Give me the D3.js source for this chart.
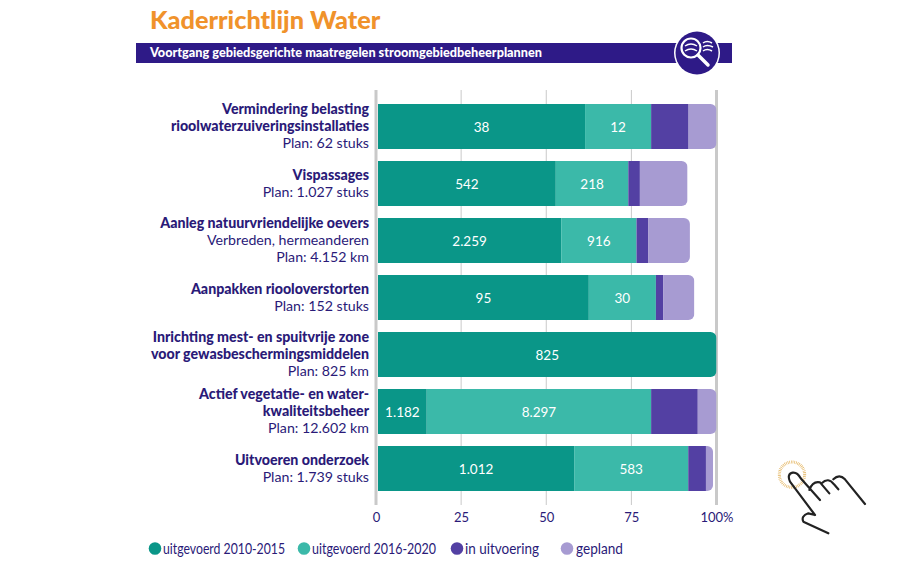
<!DOCTYPE html>
<html>
<head>
<meta charset="utf-8">
<script src="https://cdn.jsdelivr.net/npm/d3@7"></script>
<style>
  html, body { margin: 0; padding: 0; background: #fff; }
  text { font-family: Lato, "Noto Sans", sans-serif; }
</style>
</head>
<body>
<svg id="chart" width="900" height="568"></svg>
<script>
// Categories, label lines: the bold ones first, then the plain ones
const categories = ['Vermindering', 'Vispassages', 'Aanleg', 'Aanpakken', 'Inrichting', 'Actief', 'Uitvoeren'];
const boldLines = [
  ['Vermindering belasting', 'rioolwaterzuiveringsinstallaties'],
  ['Vispassages'],
  ['Aanleg natuurvriendelijke oevers'],
  ['Aanpakken riooloverstorten'],
  ['Inrichting mest- en spuitvrije zone', 'voor gewasbeschermingsmiddelen'],
  ['Actief vegetatie- en water-', 'kwaliteitsbeheer'],
  ['Uitvoeren onderzoek']
];
const plainLines = [
  ['Plan: 62 stuks'],
  ['Plan: 1.027 stuks'],
  ['Verbreden, hermeanderen', 'Plan: 4.152 km'],
  ['Plan: 152 stuks'],
  ['Plan: 825 km'],
  ['Plan: 12.602 km'],
  ['Plan: 1.739 stuks']
];

// Series, percent of plan per category
const uitgevoerd1 = [61.4, 52.8, 54.4, 62.5, 100, 14.9, 58.2];
const uitgevoerd2 = [19.4, 21.3, 22.1, 19.7, 0, 65.9, 33.5];
const inUitvoering = [11.0, 3.4, 3.5, 2.2, 0, 13.7, 5.2];
const gepland = [8.2, 14.0, 12.2, 9.1, 0, 5.5, 2.1];

// Printed values inside the bars
const labels1 = ['38', '542', '2.259', '95', '825', '1.182', '1.012'];
const labels2 = ['12', '218', '916', '30', '', '8.297', '583'];

const seriesKeys = ['uitgevoerd 2010-2015', 'uitgevoerd 2016-2020', 'in uitvoering', 'gepland'];
const seriesValues = [uitgevoerd1, uitgevoerd2, inUitvoering, gepland];
const seriesColors = ['#0a9688', '#3bb9a9', '#5340a3', '#a79bd2'];
const tickValues = [0, 25, 50, 75, 100];

const navy = '#2a1a78';
const grey = '#c9c9c9';

const svg = d3.select('#chart');

const x = d3.scaleLinear().domain([0, 100]).range([376, 716.5]);
const y = d3.scaleBand().domain(categories).range([98, 497])
  .paddingInner(12 / 57).paddingOuter(6 / 57);

// Header
svg.append('text')
  .attr('x', 150).attr('y', 29)
  .attr('font-size', 25.3).attr('font-weight', 900)
  .attr('fill', '#f0922b')
  .text('Kaderrichtlijn Water');

svg.append('rect')
  .attr('x', 136).attr('y', 43).attr('width', 596).attr('height', 20)
  .attr('fill', '#2e1a87');

svg.append('text')
  .attr('x', 150).attr('y', 56.5)
  .attr('font-size', 12.5).attr('font-weight', 900)
  .attr('fill', '#fff')
  .attr('textLength', 392).attr('lengthAdjust', 'spacingAndGlyphs')
  .text('Voortgang gebiedsgerichte maatregelen stroomgebiedbeheerplannen');

// Magnifier icon on the banner
const icon = svg.append('g').attr('transform', 'translate(697,53)');
icon.append('circle').attr('r', 23).attr('fill', '#fff');
icon.append('circle').attr('r', 21.5).attr('fill', '#2e1a87');
icon.append('circle').attr('cx', -6).attr('cy', -5).attr('r', 9.5)
  .attr('fill', 'none').attr('stroke', '#fff').attr('stroke-width', 2.2);
icon.append('line').attr('x1', 1).attr('y1', 2).attr('x2', 11).attr('y2', 12)
  .attr('stroke', '#fff').attr('stroke-width', 3.5).attr('stroke-linecap', 'round');
['M-12,-7 Q-6,-11 0,-7', 'M-12,-2 Q-6,-6 0,-2', 'M6,-10 Q10,-13 15,-10', 'M6,-6 Q10,-9 16,-6', 'M6,-2 Q10,-5 15,-2']
  .forEach(d => icon.append('path').attr('d', d)
    .attr('fill', 'none').attr('stroke', '#fff').attr('stroke-width', 1.5));

// Grid
svg.selectAll('.grid')
  .data(tickValues)
  .enter()
  .append('line')
  .attr('class', 'grid')
  .attr('x1', d => x(d)).attr('x2', d => x(d))
  .attr('y1', 90).attr('y2', 505)
  .attr('stroke', grey)
  .attr('stroke-width', d => (d === 0 || d === 100) ? 3 : 1);

// Stacked bars
const rows = categories.map((c, i) => {
  const row = { category: c };
  seriesKeys.forEach((k, s) => { row[k] = seriesValues[s][i]; });
  return row;
});
const stacked = d3.stack().keys(seriesKeys)(rows);

const barStart = x(0) + 2;
const defs = svg.append('defs');
categories.forEach((c, i) => {
  const total = d3.sum(seriesValues, s => s[i]);
  defs.append('clipPath').attr('id', 'clip' + i)
    .append('rect')
    .attr('x', barStart - 8)
    .attr('y', y(c))
    .attr('width', x(total) - barStart + 8)
    .attr('height', y.bandwidth())
    .attr('rx', 6);
  defs.select('#clip' + i).append('rect')
    .attr('x', barStart - 8).attr('y', y(c))
    .attr('width', 20).attr('height', y.bandwidth());
});

const barGroups = svg.selectAll('.bar')
  .data(categories)
  .enter()
  .append('g')
  .attr('class', 'bar')
  .attr('clip-path', (d, i) => `url(#clip${i})`);

barGroups.each(function (c, i) {
  const group = d3.select(this);
  stacked.forEach((layer, s) => {
    const d = layer[i];
    if (d[1] <= d[0]) return;
    group.append('rect')
      .attr('x', Math.max(x(d[0]), barStart))
      .attr('y', y(c))
      .attr('width', x(d[1]) - Math.max(x(d[0]), barStart))
      .attr('height', y.bandwidth())
      .attr('fill', seriesColors[s]);
  });
});

// Values inside the bars
[labels1, labels2].forEach((labels, s) => {
  svg.selectAll('.val' + s)
    .data(categories)
    .enter()
    .append('text')
    .attr('class', 'val' + s)
    .attr('x', (c, i) => (Math.max(x(stacked[s][i][0]), barStart) + x(stacked[s][i][1])) / 2)
    .attr('y', c => y(c) + y.bandwidth() / 2 + 5)
    .attr('text-anchor', 'middle')
    .attr('font-size', 13.5)
    .attr('font-weight', 400)
    .attr('fill', '#fff')
    .text((c, i) => labels[i]);
});

// Category labels
categories.forEach((c, i) => {
  const lines = boldLines[i].map(t => ({ t, bold: true }))
    .concat(plainLines[i].map(t => ({ t, bold: false })));
  const mid = y(c) + y.bandwidth() / 2 + 4.5;
  lines.forEach((l, j) => {
    svg.append('text')
      .attr('x', 369)
      .attr('y', mid + (j - (lines.length - 1) / 2) * 17)
      .attr('text-anchor', 'end')
      .attr('font-size', 14.2)
      .attr('font-weight', l.bold ? 900 : 400)
      .attr('fill', navy)
      .text(l.t);
  });
});

// Axis
const axis = svg.append('g')
  .attr('transform', 'translate(0,505)')
  .call(d3.axisBottom(x).tickValues(tickValues).tickSize(0).tickPadding(8)
    .tickFormat(d => d === 100 ? '100%' : d));
axis.select('.domain').remove();
axis.selectAll('text')
  .attr('font-family', 'Lato, "Noto Sans", sans-serif')
  .attr('font-size', 13)
  .attr('fill', navy);

// Legend
const legendCircleX = [155, 304, 457, 567];
const legendTextWidth = [122, 124, 74, 47];
const legend = svg.selectAll('.legend')
  .data(seriesKeys)
  .enter()
  .append('g')
  .attr('class', 'legend')
  .attr('transform', (d, i) => `translate(${legendCircleX[i]},548.5)`);
legend.append('circle').attr('r', 6.3).attr('fill', (d, i) => seriesColors[i]);
legend.append('text')
  .attr('x', (d, i) => i === 3 ? 9 : 8)
  .attr('y', 5)
  .attr('font-size', 14.5)
  .attr('fill', navy)
  .attr('textLength', (d, i) => legendTextWidth[i])
  .attr('lengthAdjust', 'spacingAndGlyphs')
  .text(d => d);

// Tapping hand
const hand = svg.append('g').attr('transform', 'translate(770,450) scale(0.3333)');
hand.append('circle')
  .attr('cx', 66).attr('cy', 74).attr('r', 38)
  .attr('fill', 'none').attr('stroke', '#e3b35c')
  .attr('stroke-width', 9).attr('stroke-dasharray', '2 3');
hand.append('path')
  .attr('d', 'M135,195 L60,95 Q50,72 68,68 Q82,66 92,85 L150,150 M118,120 Q128,92 150,97 L178,130 M155,100 Q175,80 192,103 L205,118 M190,88 Q208,70 225,88 L285,162 M135,195 L115,190 Q92,198 100,215 L175,250')
  .attr('fill', 'none').attr('stroke', '#222').attr('stroke-width', 6.5)
  .attr('stroke-linecap', 'round').attr('stroke-linejoin', 'round');
</script>
</body>
</html>
